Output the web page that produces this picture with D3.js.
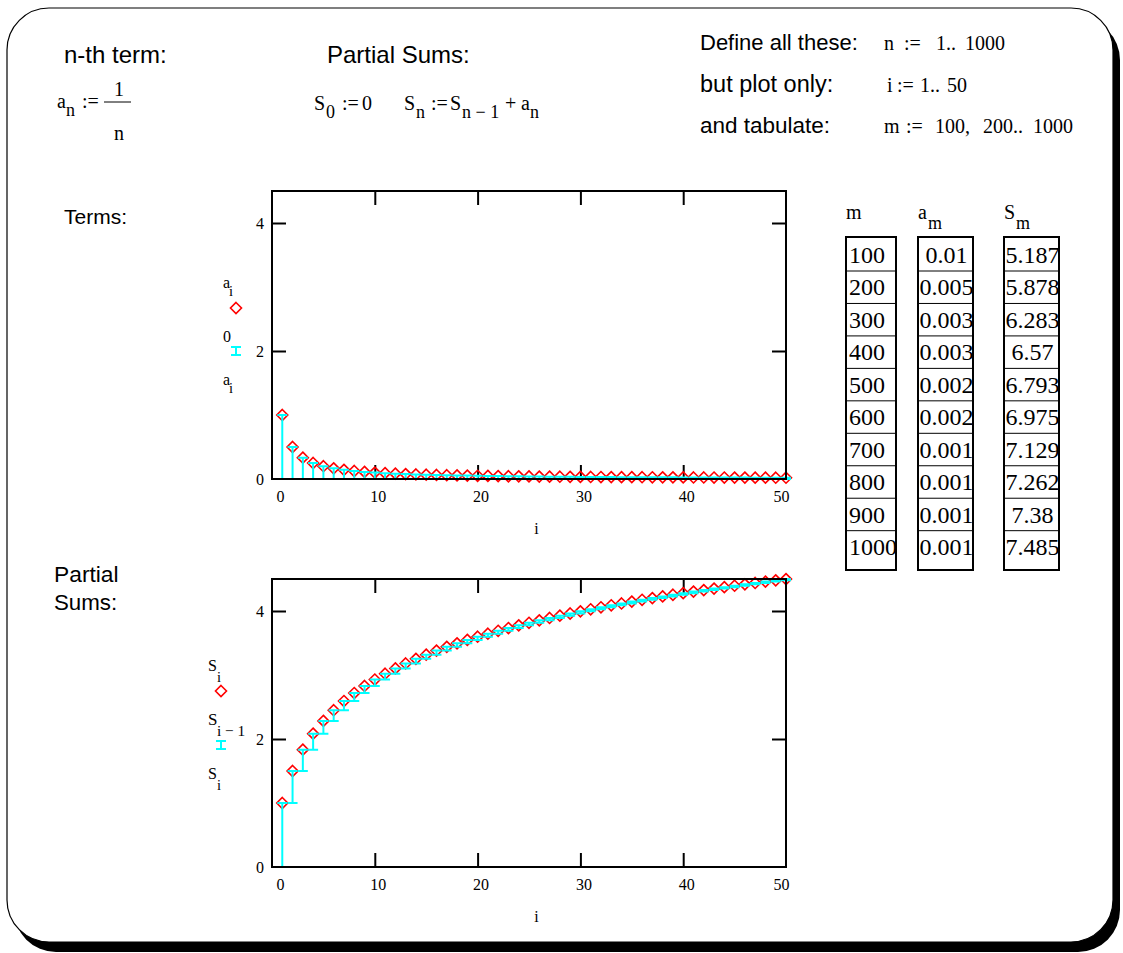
<!DOCTYPE html>
<html>
<head>
<meta charset="utf-8">
<script src="https://cdn.jsdelivr.net/npm/d3@7/dist/d3.min.js"></script>
<style>
  body { margin: 0; background: #fff; }
  svg text { font-family: "Liberation Serif", "Times New Roman", serif; fill: #000; }
  svg text.sans { font-family: "Liberation Sans", Arial, sans-serif; }
</style>
</head>
<body>
<div id="sheet"></div>
<script>
// values: a_i = 1/i and S_i, i = 1..50
const stepIndex = d3.range(1, 51);
const termValues = [1, 0.5, 0.333, 0.25, 0.2, 0.167, 0.143, 0.125, 0.111, 0.1,
  0.091, 0.083, 0.077, 0.071, 0.067, 0.063, 0.059, 0.056, 0.053, 0.05,
  0.048, 0.045, 0.043, 0.042, 0.04, 0.038, 0.037, 0.036, 0.034, 0.033,
  0.032, 0.031, 0.03, 0.029, 0.029, 0.028, 0.027, 0.026, 0.026, 0.025,
  0.024, 0.024, 0.023, 0.023, 0.022, 0.022, 0.021, 0.021, 0.02, 0.02];
const partialSums = [1, 1.5, 1.833, 2.083, 2.283, 2.45, 2.593, 2.718, 2.829, 2.929,
  3.02, 3.103, 3.18, 3.252, 3.318, 3.381, 3.44, 3.495, 3.548, 3.598,
  3.645, 3.691, 3.734, 3.776, 3.816, 3.854, 3.891, 3.927, 3.961, 3.995,
  4.027, 4.058, 4.089, 4.118, 4.147, 4.175, 4.202, 4.228, 4.254, 4.279,
  4.303, 4.327, 4.35, 4.373, 4.395, 4.417, 4.438, 4.459, 4.479, 4.499];

// tabulated rows
const tableM = ['100', '200', '300', '400', '500', '600', '700', '800', '900', '1000'];
const tableA = ['0.01', '0.005', '0.003', '0.003', '0.002', '0.002', '0.001', '0.001', '0.001', '0.001'];
const tableS = ['5.187', '5.878', '6.283', '6.57', '6.793', '6.975', '7.129', '7.262', '7.38', '7.485'];

// axis ticks
const xTickLabels = [0, 10, 20, 30, 40, 50];
const xInnerTicks = [10, 20, 30, 40];
const yTickLabels = [0, 2, 4];
const yInnerTicks = [2, 4];

const WIDTH = 1123;
const HEIGHT = 953;
const RED = '#ff0000';
const CYAN = '#00ffff';

const svg = d3.select('#sheet')
  .append('svg')
  .attr('width', WIDTH)
  .attr('height', HEIGHT);

// worksheet region with its drop shadow
svg.append('rect')
  .attr('x', 14).attr('y', 18)
  .attr('width', 1106).attr('height', 934)
  .attr('rx', 42)
  .attr('fill', '#000');
svg.append('rect')
  .attr('x', 7).attr('y', 8)
  .attr('width', 1106).attr('height', 934)
  .attr('rx', 42)
  .attr('fill', '#fff')
  .attr('stroke', '#000')
  .attr('stroke-width', 1.2);

const label = function (x, y, str, size, cls) {
  return svg.append('text')
    .attr('class', cls || null)
    .attr('x', x)
    .attr('y', y)
    .attr('font-size', size)
    .text(str);
};

// letter with a lowered subscript
const subscripted = function (x, y, base, sub, size, subDx, subDy) {
  label(x, y, base, size);
  label(x + subDx, y + subDy, sub, size * 0.9);
};

// headings
label(64, 63, 'n-th term:', 24, 'sans');
label(327, 63, 'Partial Sums:', 24, 'sans');
label(700, 50, 'Define all these:', 22, 'sans');
label(700, 92, 'but plot only:', 23.5, 'sans');
label(700, 133, 'and tabulate:', 22.5, 'sans');
label(64, 224, 'Terms:', 21, 'sans');
label(54, 582, 'Partial', 22.8, 'sans');
label(54, 610, 'Sums:', 22.3, 'sans');

// definitions
label(884, 50, 'n', 20);
label(904, 50, ':=', 20);
label(936, 50, '1..', 20);
label(965, 50, '1000', 20);
label(887, 92, 'i', 20);
label(897, 92, ':=', 20);
label(920, 92, '1..', 20);
label(947, 92, '50', 20);
label(884, 133, 'm', 20);
label(906, 133, ':=', 20);
label(935, 133, '100,', 20);
label(983, 133, '200..', 20);
label(1033, 133, '1000', 20);

subscripted(57, 108, 'a', 'n', 20, 9, 8);
label(82, 108, ':=', 20);
label(114, 96, '1', 20);
label(114, 140, 'n', 20);
svg.append('line')
  .attr('x1', 104).attr('x2', 131)
  .attr('y1', 102).attr('y2', 102)
  .attr('stroke', '#000').attr('stroke-width', 1);

subscripted(314, 110, 'S', '0', 20, 12, 8);
label(342, 110, ':=', 20);
label(362, 110, '0', 20);
subscripted(404, 110, 'S', 'n', 20, 12, 8);
label(431, 110, ':=', 20);
subscripted(450, 110, 'S', 'n \u2212 1', 20, 12, 8);
label(505, 110, '+', 20);
subscripted(521, 110, 'a', 'n', 20, 9, 8);

// marker shapes
const diamond = function (context, r) {
  context.moveTo(0, -r);
  context.lineTo(r, 0);
  context.lineTo(0, r);
  context.lineTo(-r, 0);
  context.closePath();
  return context;
};

const errorBar = function (context, cx, y1, y2, w) {
  context.moveTo(cx, y1);
  context.lineTo(cx, y2);
  context.moveTo(cx - w, y1);
  context.lineTo(cx + w, y1);
  context.moveTo(cx - w, y2);
  context.lineTo(cx + w, y2);
  return context;
};

const drawPlot = function (frame, highs, lows) {
  const x = d3.scaleLinear().domain([0, 50]).range([frame.left, frame.right]);
  const y = d3.scaleLinear().domain([0, 4.5]).range([frame.bottom, frame.top]);
  const g = svg.append('g');

  const tickStyle = function (sel) {
    sel.select('.domain').remove();
    sel.selectAll('line').attr('stroke', '#000').attr('stroke-width', 2);
  };

  // inward ticks on all four sides
  g.append('g').attr('transform', `translate(0,${frame.bottom})`)
    .call(d3.axisBottom(x).tickValues(xInnerTicks).tickSize(-14).tickFormat(''))
    .call(tickStyle);
  g.append('g').attr('transform', `translate(0,${frame.top})`)
    .call(d3.axisTop(x).tickValues(xInnerTicks).tickSize(-14).tickFormat(''))
    .call(tickStyle);
  g.append('g').attr('transform', `translate(${frame.left},0)`)
    .call(d3.axisLeft(y).tickValues(yInnerTicks).tickSize(-14).tickFormat(''))
    .call(tickStyle);
  g.append('g').attr('transform', `translate(${frame.right},0)`)
    .call(d3.axisRight(y).tickValues(yInnerTicks).tickSize(-14).tickFormat(''))
    .call(tickStyle);

  // tick labels
  const xLab = g.append('g').attr('transform', `translate(0,${frame.bottom})`)
    .call(d3.axisBottom(x).tickValues(xTickLabels).tickSize(0).tickPadding(12)
      .tickFormat(d3.format('d')));
  xLab.select('.domain').remove();
  xLab.selectAll('text')
    .attr('font-size', 16)
    .attr('fill', '#000')
    .attr('dx', (d, i) => i === 0 ? 8 : (i === xTickLabels.length - 1 ? -5 : 3));

  const yLab = g.append('g').attr('transform', `translate(${frame.left},0)`)
    .call(d3.axisLeft(y).tickValues(yTickLabels).tickSize(0).tickPadding(8)
      .tickFormat(d3.format('d')));
  yLab.select('.domain').remove();
  yLab.selectAll('text')
    .attr('font-size', 16)
    .attr('fill', '#000');
  g.selectAll('g').attr('font-family', null).attr('font-size', null);

  // axis title
  g.append('text')
    .attr('x', x(25.5))
    .attr('y', frame.bottom + 55)
    .attr('font-size', 16)
    .text('i');

  // points
  g.append('g')
    .selectAll('path')
    .data(stepIndex)
    .enter()
    .append('path')
    .attr('transform', (d, k) => `translate(${x(d)},${y(highs[k])})`)
    .attr('d', diamond(d3.path(), 5.5).toString())
    .attr('fill', 'none')
    .attr('stroke', RED)
    .attr('stroke-width', 1.6);

  // error bars
  g.append('g')
    .selectAll('path')
    .data(stepIndex)
    .enter()
    .append('path')
    .attr('d', (d, k) => errorBar(d3.path(), x(d), y(lows[k]), y(highs[k]), 5).toString())
    .attr('fill', 'none')
    .attr('stroke', CYAN)
    .attr('stroke-width', 2);

  // frame
  g.append('rect')
    .attr('x', frame.left)
    .attr('y', frame.top)
    .attr('width', frame.right - frame.left)
    .attr('height', frame.bottom - frame.top)
    .attr('fill', 'none')
    .attr('stroke', '#000')
    .attr('stroke-width', 2);
};

const legendMarks = function (lx, diamondY, barY) {
  svg.append('path')
    .attr('transform', `translate(${lx},${diamondY})`)
    .attr('d', diamond(d3.path(), 5.5).toString())
    .attr('fill', 'none')
    .attr('stroke', RED)
    .attr('stroke-width', 1.6);
  svg.append('path')
    .attr('d', errorBar(d3.path(), lx, barY - 4, barY + 4, 5).toString())
    .attr('fill', 'none')
    .attr('stroke', CYAN)
    .attr('stroke-width', 2);
};

// Terms plot
drawPlot({ left: 272, right: 786, top: 191, bottom: 479 },
  termValues, termValues.map(() => 0));
subscripted(223, 288, 'a', 'i', 16, 6, 8);
legendMarks(236, 308, 351);
label(223, 342, '0', 16);
subscripted(223, 385, 'a', 'i', 16, 6, 8);

// Partial sums plot
drawPlot({ left: 272, right: 786, top: 579, bottom: 867 },
  partialSums, [0].concat(partialSums.slice(0, -1)));
subscripted(208, 671, 'S', 'i', 16, 9, 11);
legendMarks(221, 691, 745);
subscripted(208, 725, 'S', 'i \u2212 1', 17, 9, 11);
subscripted(208, 779, 'S', 'i', 16, 9, 11);

// table of m, a_m, S_m
const rowTop = 237;
const rowStep = 32.46;
const firstSep = 271;
const tableBottom = 570;
const columns = [
  { left: 846, right: 896, values: tableM, align: 'start' },
  { left: 918, right: 973, values: tableA, align: 'middle' },
  { left: 1004, right: 1059, values: tableS, align: 'middle' }
];

label(846, 219, 'm', 20);
subscripted(918, 219, 'a', 'm', 20, 10, 10);
subscripted(1004, 219, 'S', 'm', 20, 12, 10);

const rowY = d3.scaleLinear().domain([0, 1]).range([firstSep, firstSep + rowStep]);

columns.forEach(function (col) {
  const c = svg.append('g');
  c.append('rect')
    .attr('x', col.left)
    .attr('y', rowTop)
    .attr('width', col.right - col.left)
    .attr('height', tableBottom - rowTop)
    .attr('fill', 'none')
    .attr('stroke', '#000')
    .attr('stroke-width', 2);
  c.selectAll('line')
    .data(d3.range(9))
    .enter()
    .append('line')
    .attr('x1', col.left)
    .attr('x2', col.right)
    .attr('y1', d => rowY(d))
    .attr('y2', d => rowY(d))
    .attr('stroke', '#000')
    .attr('stroke-width', 1);
  c.selectAll('text')
    .data(col.values)
    .enter()
    .append('text')
    .attr('x', col.align === 'start' ? col.left + 3 : (col.left + col.right) / 2 + 1)
    .attr('y', (d, k) => rowY(k) - 8)
    .attr('text-anchor', col.align)
    .attr('font-size', 24)
    .text(d => d);
});
</script>
</body>
</html>
